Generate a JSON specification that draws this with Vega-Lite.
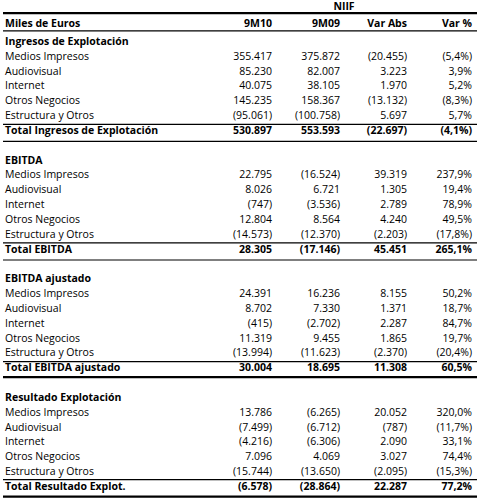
{
  "$schema": "https://vega.github.io/schema/vega-lite/v6.json",
  "width": 474,
  "height": 504,
  "padding": {"left": 3, "right": 12, "top": 0, "bottom": 0},
  "autosize": {"type": "none"},
  "background": "white",
  "config": {
    "view": {"stroke": null},
    "text": {"font": "Open Sans", "fontSize": 10.5, "color": "#000000", "baseline": "middle"},
    "rule": {"color": "#000000"}
  },
  "datasets": {
    "columns": [
      {"col": "label", "idx": 0},
      {"col": "9M10", "idx": 1},
      {"col": "9M09", "idx": 2},
      {"col": "Var Abs", "idx": 3},
      {"col": "Var %", "idx": 4},
      {"col": "NIIF", "idx": 5}
    ],
    "table": [
      {"r": 0.8, "kind": "header", "label": "Miles de Euros", "9M10": "9M10", "9M09": "9M09", "Var Abs": "Var Abs", "Var %": "Var %"},
      {"r": 2, "kind": "section", "label": "Ingresos de Explotación", "9M10": "", "9M09": "", "Var Abs": "", "Var %": ""},
      {"r": 3, "kind": "item", "label": "Medios Impresos", "9M10": "355.417", "9M09": "375.872", "Var Abs": "(20.455)", "Var %": "(5,4%)"},
      {"r": 4, "kind": "item", "label": "Audiovisual", "9M10": "85.230", "9M09": "82.007", "Var Abs": "3.223", "Var %": "3,9%"},
      {"r": 5, "kind": "item", "label": "Internet", "9M10": "40.075", "9M09": "38.105", "Var Abs": "1.970", "Var %": "5,2%"},
      {"r": 6, "kind": "item", "label": "Otros Negocios", "9M10": "145.235", "9M09": "158.367", "Var Abs": "(13.132)", "Var %": "(8,3%)"},
      {"r": 7, "kind": "item", "label": "Estructura y Otros", "9M10": "(95.061)", "9M09": "(100.758)", "Var Abs": "5.697", "Var %": "5,7%"},
      {"r": 8, "kind": "total", "label": "Total Ingresos de Explotación", "9M10": "530.897", "9M09": "553.593", "Var Abs": "(22.697)", "Var %": "(4,1%)"},
      {"r": 10, "kind": "section", "label": "EBITDA", "9M10": "", "9M09": "", "Var Abs": "", "Var %": ""},
      {"r": 11, "kind": "item", "label": "Medios Impresos", "9M10": "22.795", "9M09": "(16.524)", "Var Abs": "39.319", "Var %": "237,9%"},
      {"r": 12, "kind": "item", "label": "Audiovisual", "9M10": "8.026", "9M09": "6.721", "Var Abs": "1.305", "Var %": "19,4%"},
      {"r": 13, "kind": "item", "label": "Internet", "9M10": "(747)", "9M09": "(3.536)", "Var Abs": "2.789", "Var %": "78,9%"},
      {"r": 14, "kind": "item", "label": "Otros Negocios", "9M10": "12.804", "9M09": "8.564", "Var Abs": "4.240", "Var %": "49,5%"},
      {"r": 15, "kind": "item", "label": "Estructura y Otros", "9M10": "(14.573)", "9M09": "(12.370)", "Var Abs": "(2.203)", "Var %": "(17,8%)"},
      {"r": 16, "kind": "total", "label": "Total EBITDA", "9M10": "28.305", "9M09": "(17.146)", "Var Abs": "45.451", "Var %": "265,1%"},
      {"r": 18, "kind": "section", "label": "EBITDA ajustado", "9M10": "", "9M09": "", "Var Abs": "", "Var %": ""},
      {"r": 19, "kind": "item", "label": "Medios Impresos", "9M10": "24.391", "9M09": "16.236", "Var Abs": "8.155", "Var %": "50,2%"},
      {"r": 20, "kind": "item", "label": "Audiovisual", "9M10": "8.702", "9M09": "7.330", "Var Abs": "1.371", "Var %": "18,7%"},
      {"r": 21, "kind": "item", "label": "Internet", "9M10": "(415)", "9M09": "(2.702)", "Var Abs": "2.287", "Var %": "84,7%"},
      {"r": 22, "kind": "item", "label": "Otros Negocios", "9M10": "11.319", "9M09": "9.455", "Var Abs": "1.865", "Var %": "19,7%"},
      {"r": 23, "kind": "item", "label": "Estructura y Otros", "9M10": "(13.994)", "9M09": "(11.623)", "Var Abs": "(2.370)", "Var %": "(20,4%)"},
      {"r": 24, "kind": "total", "label": "Total EBITDA ajustado", "9M10": "30.004", "9M09": "18.695", "Var Abs": "11.308", "Var %": "60,5%"},
      {"r": 26, "kind": "section", "label": "Resultado Explotación", "9M10": "", "9M09": "", "Var Abs": "", "Var %": ""},
      {"r": 27, "kind": "item", "label": "Medios Impresos", "9M10": "13.786", "9M09": "(6.265)", "Var Abs": "20.052", "Var %": "320,0%"},
      {"r": 28, "kind": "item", "label": "Audiovisual", "9M10": "(7.499)", "9M09": "(6.712)", "Var Abs": "(787)", "Var %": "(11,7%)"},
      {"r": 29, "kind": "item", "label": "Internet", "9M10": "(4.216)", "9M09": "(6.306)", "Var Abs": "2.090", "Var %": "33,1%"},
      {"r": 30, "kind": "item", "label": "Otros Negocios", "9M10": "7.096", "9M09": "4.069", "Var Abs": "3.027", "Var %": "74,4%"},
      {"r": 31, "kind": "item", "label": "Estructura y Otros", "9M10": "(15.744)", "9M09": "(13.650)", "Var Abs": "(2.095)", "Var %": "(15,3%)"},
      {"r": 32, "kind": "total", "label": "Total Resultado Explot.", "9M10": "(6.578)", "9M09": "(28.864)", "Var Abs": "22.287", "Var %": "77,2%"}
    ],
    "lines": [
      {"pos": 0.05, "weight": "heavy"},
      {"pos": 1.25, "weight": "light"},
      {"pos": 7.55, "weight": "light"},
      {"pos": 8.7, "weight": "light"},
      {"pos": 15.55, "weight": "light"},
      {"pos": 16.7, "weight": "light"},
      {"pos": 23.55, "weight": "light"},
      {"pos": 24.6, "weight": "heavy"},
      {"pos": 31.5, "weight": "light"},
      {"pos": 32.65, "weight": "heavy"}
    ]
  },
  "layer": [
    {
      "data": {"name": "lines"},
      "transform": [{"filter": "datum.weight == 'light'"}],
      "mark": {"type": "rule", "strokeWidth": 1.2},
      "encoding": {
        "y": {"field": "pos", "type": "quantitative", "scale": {"domain": [-0.83, 33.15], "reverse": true, "nice": false, "zero": false}, "axis": null}
      }
    },
    {
      "data": {"name": "lines"},
      "transform": [{"filter": "datum.weight == 'heavy'"}],
      "mark": {"type": "rule", "strokeWidth": 2.2},
      "encoding": {
        "y": {"field": "pos", "type": "quantitative", "axis": null}
      }
    },
    {
      "data": {"values": [{"r": -0.35, "col": "NIIF", "val": "NIIF"}]},
      "transform": [{"lookup": "col", "from": {"data": {"name": "columns"}, "key": "col", "fields": ["idx"]}}],
      "mark": {"type": "text", "align": "center", "fontWeight": "bold"},
      "encoding": {
        "x": {"field": "idx", "type": "quantitative", "scale": {"domain": [0, 1, 2, 3, 4, 5], "range": [2, 269, 337, 404, 469, 341], "nice": false, "zero": false}, "axis": null},
        "y": {"field": "r", "type": "quantitative", "axis": null},
        "text": {"field": "val"}
      }
    },
    {
      "data": {"name": "table"},
      "transform": [
        {"filter": "datum.kind == 'item'"},
        {"fold": ["label"], "as": ["col", "val"]},
        {"lookup": "col", "from": {"data": {"name": "columns"}, "key": "col", "fields": ["idx"]}}
      ],
      "mark": {"type": "text", "align": "left"},
      "encoding": {
        "x": {"field": "idx", "type": "quantitative", "axis": null},
        "y": {"field": "r", "type": "quantitative", "axis": null},
        "text": {"field": "val"}
      }
    },
    {
      "data": {"name": "table"},
      "transform": [
        {"filter": "datum.kind != 'item'"},
        {"fold": ["label"], "as": ["col", "val"]},
        {"lookup": "col", "from": {"data": {"name": "columns"}, "key": "col", "fields": ["idx"]}}
      ],
      "mark": {"type": "text", "align": "left", "fontWeight": "bold"},
      "encoding": {
        "x": {"field": "idx", "type": "quantitative", "axis": null},
        "y": {"field": "r", "type": "quantitative", "axis": null},
        "text": {"field": "val"}
      }
    },
    {
      "data": {"name": "table"},
      "transform": [
        {"filter": "datum.kind == 'item'"},
        {"fold": ["9M10", "9M09", "Var Abs", "Var %"], "as": ["col", "val"]},
        {"lookup": "col", "from": {"data": {"name": "columns"}, "key": "col", "fields": ["idx"]}}
      ],
      "mark": {"type": "text", "align": "right"},
      "encoding": {
        "x": {"field": "idx", "type": "quantitative", "axis": null},
        "y": {"field": "r", "type": "quantitative", "axis": null},
        "text": {"field": "val"}
      }
    },
    {
      "data": {"name": "table"},
      "transform": [
        {"filter": "datum.kind != 'item'"},
        {"fold": ["9M10", "9M09", "Var Abs", "Var %"], "as": ["col", "val"]},
        {"lookup": "col", "from": {"data": {"name": "columns"}, "key": "col", "fields": ["idx"]}}
      ],
      "mark": {"type": "text", "align": "right", "fontWeight": "bold"},
      "encoding": {
        "x": {"field": "idx", "type": "quantitative", "axis": null},
        "y": {"field": "r", "type": "quantitative", "axis": null},
        "text": {"field": "val"}
      }
    }
  ]
}
